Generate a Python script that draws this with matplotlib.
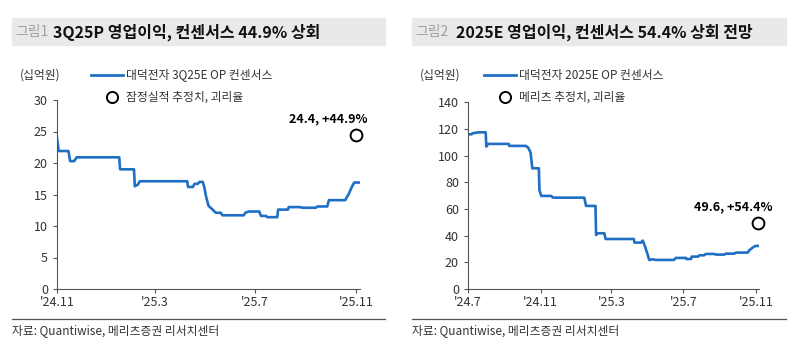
import matplotlib
matplotlib.use('Agg')
import matplotlib.pyplot as plt
import pandas as pd

plt.rcParams['font.family'] = ['Noto Sans CJK KR', 'DejaVu Sans']

# ---- Data: 그림1 (3Q25E OP consensus, 십억원) ----
left_dates = ['2024-11-01', '2024-11-03', '2024-11-15', '2024-11-17', '2024-11-22',
              '2024-11-25', '2025-01-16', '2025-01-17', '2025-02-03', '2025-02-04',
              '2025-02-08', '2025-02-10', '2025-04-09', '2025-04-10', '2025-04-16',
              '2025-04-18', '2025-04-22', '2025-04-24', '2025-04-28', '2025-04-30',
              '2025-05-02', '2025-05-05', '2025-05-10', '2025-05-14', '2025-05-20',
              '2025-05-22', '2025-06-17', '2025-06-19', '2025-06-23', '2025-07-06',
              '2025-07-08', '2025-07-14', '2025-07-16', '2025-07-28', '2025-07-29',
              '2025-08-10', '2025-08-11', '2025-08-25', '2025-08-27', '2025-09-13',
              '2025-09-15', '2025-09-27', '2025-09-29', '2025-10-19', '2025-10-21',
              '2025-10-23', '2025-10-27', '2025-10-30', '2025-11-05']
left_values = [24.0, 21.9, 21.9, 20.3, 20.3,
               20.9, 20.9, 19.0, 19.0, 16.3,
               16.6, 17.1, 17.1, 16.2, 16.2,
               16.7, 16.7, 17.0, 17.0, 16.1,
               14.7, 13.2, 12.6, 12.1, 12.1,
               11.7, 11.7, 12.1, 12.3, 12.3,
               11.6, 11.6, 11.4, 11.4, 12.6,
               12.6, 13.0, 13.0, 12.9, 12.9,
               13.1, 13.1, 14.1, 14.1, 14.6,
               15.0, 16.2, 16.9, 16.9]
left_est_date = '2025-11-01'
left_est_value = 24.4
left_est_label = '24.4, +44.9%'

# ---- Data: 그림2 (2025E OP consensus, 십억원) ----
right_dates = ['2024-07-01', '2024-07-07', '2024-07-09', '2024-07-20', '2024-07-31',
               '2024-08-01', '2024-08-04', '2024-09-08', '2024-09-09', '2024-10-07',
               '2024-10-11', '2024-10-15', '2024-10-18', '2024-10-29', '2024-10-30',
               '2024-11-02', '2024-11-19', '2024-11-22', '2025-01-14', '2025-01-17',
               '2025-02-02', '2025-02-03', '2025-02-06', '2025-02-17', '2025-02-19',
               '2025-04-08', '2025-04-09', '2025-04-20', '2025-04-23', '2025-04-27',
               '2025-05-01', '2025-05-04', '2025-05-10', '2025-05-15', '2025-06-15',
               '2025-06-18', '2025-07-05', '2025-07-06', '2025-07-14', '2025-07-15',
               '2025-07-26', '2025-07-28', '2025-08-05', '2025-08-08', '2025-08-22',
               '2025-08-25', '2025-09-08', '2025-09-11', '2025-09-25', '2025-09-28',
               '2025-10-18', '2025-10-20', '2025-10-26', '2025-10-31', '2025-11-04']
right_values = [116.0, 116.0, 116.8, 117.5, 117.5,
                106.8, 108.8, 108.8, 107.3, 107.3,
                106.0, 102.3, 90.5, 90.5, 74.3,
                69.8, 69.8, 68.5, 68.5, 62.3,
                62.3, 40.5, 41.8, 41.8, 37.5,
                37.5, 34.8, 34.8, 36.3, 31.8,
                26.3, 21.8, 22.3, 21.8, 21.8,
                23.3, 23.3, 22.5, 22.5, 24.3,
                24.3, 25.3, 25.3, 26.3, 26.3,
                25.8, 25.8, 26.5, 26.5, 27.3,
                27.3, 28.8, 31.0, 32.3, 32.3]
right_est_date = '2025-11-04'
right_est_value = 49.6
right_est_label = '49.6, +54.4%'

left_ticks = ['2024-11-01', '2025-03-01', '2025-07-01', '2025-11-01']
left_ticklabels = ["'24.11", "'25.3", "'25.7", "'25.11"]
right_ticks = ['2024-07-01', '2024-11-01', '2025-03-01', '2025-07-01', '2025-11-01']
right_ticklabels = ["'24.7", "'24.11", "'25.3", "'25.7", "'25.11"]

line_color = '#1f6fc5'
W, H = 800, 355

fig = plt.figure(figsize=(8, 3.55), dpi=100)


def px(x0, y0, x1, y1):
    # pixel box -> figure fraction rect
    return [x0 / W, 1 - y1 / H, (x1 - x0) / W, (y1 - y0) / H]


def draw_panel(rect, band_x0, band_x1, fig_no, title, title_dx, dates, values, est_date,
               est_value, est_label, label_dx, ylim, yticks, xticks, xticklabels, xlim,
               legend_line, legend_circle, leg_x):
    # title band
    fig.patches.append(plt.Rectangle((band_x0 / W, 1 - 45 / H), (band_x1 - band_x0) / W,
                                     27 / H, transform=fig.transFigure,
                                     color='#e9e9e9', zorder=0))
    fig.text((band_x0 + 3) / W, 1 - 32 / H, fig_no, fontsize=10, color='#a0a0a0',
             va='center', ha='left')
    fig.text((band_x0 + title_dx) / W, 1 - 32 / H, title, fontsize=11.5, color='#111111',
             va='center', ha='left', fontweight='bold')

    ax = fig.add_axes(rect)
    d = pd.to_datetime(dates)
    ax.plot(d, values, color=line_color, linewidth=1.9, solid_joinstyle='round')
    ax.plot(pd.to_datetime(est_date), est_value, 'o', markersize=8.5, clip_on=False,
            markerfacecolor='white', markeredgecolor='black', markeredgewidth=1.4)
    ax.annotate(est_label, xy=(pd.to_datetime(est_date), est_value),
                xytext=(label_dx, 7), textcoords='offset points', ha='center',
                va='bottom', fontsize=9, fontweight='bold', color='black')

    ax.set_ylim(*ylim)
    ax.set_yticks(yticks)
    ax.set_xlim(pd.to_datetime(xlim[0]), pd.to_datetime(xlim[1]))
    ax.set_xticks(pd.to_datetime(xticks))
    ax.set_xticklabels(xticklabels)
    for s in ['top', 'right']:
        ax.spines[s].set_visible(False)
    for s in ['left', 'bottom']:
        ax.spines[s].set_color('#555555')
        ax.spines[s].set_linewidth(0.8)
    ax.tick_params(axis='both', direction='out', length=3, width=0.8, color='#555555',
                   labelsize=9, labelcolor='#333333')
    ax.tick_params(axis='x', pad=2)
    ax.set_facecolor('none')

    # unit + legend
    fig.text((band_x0 + 8) / W, 1 - 75 / H, '(십억원)', fontsize=8.5, color='#333333',
             va='center', ha='left')
    fig.lines.append(plt.Line2D([(leg_x - 34) / W, (leg_x - 2) / W],
                                [1 - 75 / H, 1 - 75 / H], transform=fig.transFigure,
                                color=line_color, linewidth=2))
    fig.text((leg_x + 1) / W, 1 - 75 / H, legend_line, fontsize=8.5, color='#333333',
             va='center', ha='left')
    fig.lines.append(plt.Line2D([(leg_x - 13) / W], [1 - 97 / H], transform=fig.transFigure,
                                marker='o', markersize=8, markerfacecolor='white',
                                markeredgecolor='black', markeredgewidth=1.4))
    fig.text((leg_x + 1) / W, 1 - 97 / H, legend_circle, fontsize=8.5, color='#333333',
             va='center', ha='left')

    # bottom rule and source
    fig.lines.append(plt.Line2D([band_x0 / W, band_x1 / W], [1 - 319 / H, 1 - 319 / H],
                                transform=fig.transFigure, color='#555555', linewidth=0.9))
    fig.text(band_x0 / W, 1 - 331 / H, '자료: Quantiwise, 메리츠증권 리서치센터',
             fontsize=8.5, color='#333333', va='center', ha='left')
    return ax


draw_panel(px(57, 100, 360, 289), 12, 385, '그림1', '3Q25P 영업이익, 컨센서스 44.9% 상회', 41,
           left_dates, left_values, left_est_date, left_est_value, left_est_label, -20,
           (0, 30), [0, 5, 10, 15, 20, 25, 30], left_ticks, left_ticklabels,
           ('2024-11-01', '2025-11-06'),
           '대덕전자 3Q25E OP 컨센서스', '잠정실적 추정치, 괴리율', 125)

draw_panel(px(468, 102.3, 759, 289), 412, 786, '그림2', '2025E 영업이익, 컨센서스 54.4% 상회 전망', 44,
           right_dates, right_values, right_est_date, right_est_value, right_est_label, -18,
           (0, 140), [0, 20, 40, 60, 80, 100, 120, 140], right_ticks, right_ticklabels,
           ('2024-07-01', '2025-11-06'),
           '대덕전자 2025E OP 컨센서스', '메리츠 추정치, 괴리율', 518)

fig.savefig('out.png', dpi=100)
